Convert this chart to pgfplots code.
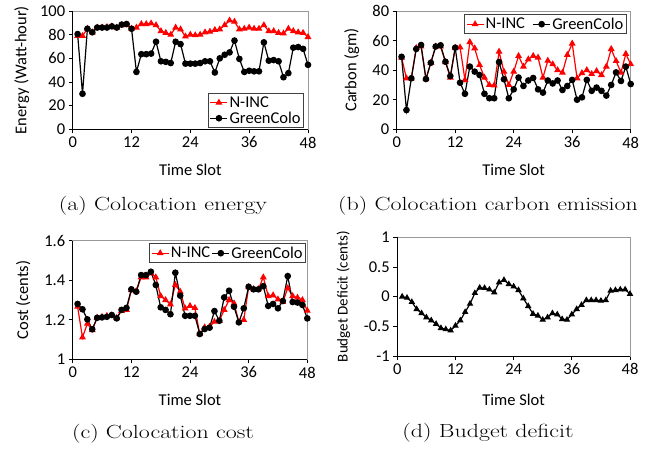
\documentclass[border=0pt]{standalone}
\usepackage{fontspec}
\usepackage{graphicx}
\usepackage{pgfplots}
\pgfplotsset{compat=1.18}
\newfontfamily\cf{Carlito}
\definecolor{ninc}{RGB}{255,0,0}
\newcommand{\capt}[1]{\fontsize{19}{21}\selectfont\scalebox{1.26}[1]{#1}}
\pgfplotsset{
  colo/.style={
    scale only axis,
    xmin=0, xmax=48, xtick={0,12,24,36,48},
    tick align=outside, xtick pos=bottom, ytick pos=left,
    major tick length=4pt,
    axis line style={black!40, line width=0.8pt},
    tick style={black, line width=0.8pt},
    tick label style={font=\fontsize{16.5}{18}\cf},
    /pgf/number format/assume math mode=true,
    xlabel={Time Slot},
    clip=false,
    legend cell align=left,
    legend style={draw=black!75, line width=0.8pt, font=\fontsize{16.5}{18}\cf, inner sep=1.5pt,
      nodes={inner sep=1.5pt}},
  },
  nincp/.style={color=ninc, line width=1.2pt, mark=triangle*, mark size=2.8pt, mark options={solid}},
  greenp/.style={color=black, line width=1.2pt, mark=*, mark size=2.7pt},
}
\newcommand{\blackaxes}{\draw[black, line width=0.9pt] (rel axis cs:0,1) -- (rel axis cs:0,0) -- (rel axis cs:1,0);}
\begin{document}
\begin{tikzpicture}
\useasboundingbox (0,0) rectangle (645pt,452pt);
% (a)
\begin{axis}[colo, at={(72.7pt,322.7pt)}, anchor=south west, width=235.3pt, height=118.3pt,
  ymin=0, ymax=100, ytick={0,20,40,60,80,100},
  ylabel={Energy (Watt-hour)},
  every axis y label/.style={at={(axis description cs:-0.2167,0.5)}, rotate=90, anchor=center, font=\fontsize{16.5}{18}\cf},
  every axis x label/.style={at={(axis description cs:0.5,-0.344)}, anchor=center, font=\fontsize{16.5}{18}\cf},
  legend style={at={(rel axis cs:0.983,0.01)}, anchor=south east}]
\addplot[nincp] coordinates {(1,79)(2,79)(3,85)(4,82)(5,86)(6,86)(7,86.5)(8,87)(9,86)(10,88)(11,88)(12,85)(13,86)(14,89)(15,89)(16,89.5)(17,88)(18,83)(19,81.5)(20,80)(21,86)(22,84.5)(23,78.5)(24,80)(25,79.5)(26,80)(27,82)(28,82.5)(29,84)(30,84.5)(31,88)(32,92)(33,91)(34,84.5)(35,85)(36,86)(37,85)(38,85)(39,88)(40,83)(41,83)(42,81.5)(43,81)(44,85)(45,83)(46,82)(47,81.5)(48,78)};
\addplot[greenp] coordinates {(1,80.5)(2,30)(3,85)(4,82)(5,86)(6,86)(7,86)(8,87)(9,86)(10,88.5)(11,89)(12,85)(13,48.5)(14,63.5)(15,63.5)(16,64)(17,74)(18,57.5)(19,57)(20,56)(21,74)(22,72)(23,55.5)(24,55.5)(25,55.5)(26,56)(27,57.5)(28,57.5)(29,48)(30,60)(31,63)(32,65)(33,75)(34,59.5)(35,48.5)(36,49.5)(37,49)(38,49)(39,73.5)(40,58)(41,58.5)(42,57.5)(43,44)(44,47.5)(45,69)(46,69.5)(47,68)(48,54.5)};
\legend{N-INC,GreenColo}
\blackaxes
\end{axis}
% (b)
\begin{axis}[colo, at={(396.7pt,322.7pt)}, anchor=south west, width=234pt, height=118.3pt,
  ymin=0, ymax=80, ytick={0,20,40,60,80},
  ylabel={Carbon (gm)},
  every axis y label/.style={at={(axis description cs:-0.192,0.5)}, rotate=90, anchor=center, font=\fontsize{16.5}{18}\cf},
  every axis x label/.style={at={(axis description cs:0.5,-0.344)}, anchor=center, font=\fontsize{16.5}{18}\cf},
  legend columns=2,
  legend style={at={(rel axis cs:0.983,0.972)}, anchor=north east,
    /tikz/every even column/.append style={column sep=6pt}}]
\addplot[nincp] coordinates {(1,48.5)(2,34.5)(3,34.5)(4,55)(5,56)(6,34)(7,45)(8,56)(9,56)(10,45.5)(11,35)(12,55)(13,55.4)(14,33.4)(15,59)(16,54.8)(17,43.5)(18,35)(19,30)(20,29.7)(21,52.5)(22,39)(23,30)(24,39)(25,49.6)(26,42.4)(27,47.3)(28,49.6)(29,48.5)(30,35)(31,46.4)(32,44)(33,40)(34,38.3)(35,50.3)(36,58)(37,34.5)(38,38)(39,40)(40,37.4)(41,39.4)(42,36.7)(43,42.4)(44,54.3)(45,46.2)(46,38.3)(47,51)(48,44)};
\addplot[greenp] coordinates {(1,49)(2,13)(3,34.5)(4,54.3)(5,57)(6,34)(7,45)(8,56)(9,56.8)(10,45.7)(11,36)(12,55.2)(13,31.5)(14,24)(15,42.4)(16,39)(17,36.7)(18,24)(19,21)(20,21)(21,45.5)(22,33.8)(23,21)(24,27)(25,35)(26,29.3)(27,33)(28,34.7)(29,27)(30,24.8)(31,33)(32,31)(33,33)(34,26.6)(35,29.3)(36,33.4)(37,20)(38,21.6)(39,33.4)(40,26)(41,28.2)(42,26)(43,22.8)(44,30)(45,38.5)(46,32.7)(47,42.4)(48,30.6)};
\legend{N-INC,GreenColo}
\blackaxes
\end{axis}
% (c)
\begin{axis}[colo, at={(72.7pt,92.7pt)}, anchor=south west, width=234.6pt, height=118.6pt,
  ymin=1, ymax=1.6, ytick={1,1.2,1.4,1.6},
  ylabel={Cost (cents)},
  every axis y label/.style={at={(axis description cs:-0.2106,0.5)}, rotate=90, anchor=center, font=\fontsize{16.5}{18}\cf},
  every axis x label/.style={at={(axis description cs:0.5,-0.343)}, anchor=center, font=\fontsize{16.5}{18}\cf},
  legend columns=2,
  legend style={at={(rel axis cs:0.994,0.978)}, anchor=north east,
    /tikz/every even column/.append style={column sep=0pt}}]
\addplot[nincp] coordinates {(1,1.266)(2,1.111)(3,1.18)(4,1.148)(5,1.21)(6,1.215)(7,1.22)(8,1.222)(9,1.21)(10,1.245)(11,1.25)(12,1.35)(13,1.345)(14,1.415)(15,1.415)(16,1.435)(17,1.415)(18,1.32)(19,1.3)(20,1.278)(21,1.376)(22,1.342)(23,1.258)(24,1.27)(25,1.26)(26,1.128)(27,1.162)(28,1.165)(29,1.19)(30,1.195)(31,1.25)(32,1.3)(33,1.283)(34,1.19)(35,1.199)(36,1.365)(37,1.355)(38,1.355)(39,1.415)(40,1.32)(41,1.324)(42,1.303)(43,1.29)(44,1.36)(45,1.32)(46,1.312)(47,1.3)(48,1.246)};
\addplot[greenp] coordinates {(1,1.28)(2,1.253)(3,1.202)(4,1.152)(5,1.21)(6,1.212)(7,1.215)(8,1.224)(9,1.207)(10,1.25)(11,1.26)(12,1.354)(13,1.342)(14,1.426)(15,1.426)(16,1.443)(17,1.376)(18,1.263)(19,1.25)(20,1.228)(21,1.438)(22,1.322)(23,1.22)(24,1.22)(25,1.22)(26,1.128)(27,1.153)(28,1.16)(29,1.244)(30,1.195)(31,1.313)(32,1.347)(33,1.266)(34,1.187)(35,1.258)(36,1.367)(37,1.354)(38,1.354)(39,1.37)(40,1.27)(41,1.28)(42,1.258)(43,1.295)(44,1.421)(45,1.29)(46,1.287)(47,1.275)(48,1.207)};
\legend{N-INC,GreenColo}
\blackaxes
\end{axis}
% (d)
\begin{axis}[colo, at={(397.3pt,96pt)}, anchor=south west, width=232.7pt, height=118.7pt,
  ymin=-1, ymax=1, ytick={-1,-0.5,0,0.5,1}, yticklabels={-1,-0.5,0,0.5,1},
  ylabel={Budget Deficit (cents)},
  every axis y label/.style={at={(axis description cs:-0.232,0.5)}, rotate=90, anchor=center, font=\fontsize{15}{17}\cf},
  every axis x label/.style={at={(axis description cs:0.5,-0.371)}, anchor=center, font=\fontsize{16.5}{18}\cf}]
\addplot[color=black, line width=1.2pt, mark=triangle*, mark size=2.6pt] coordinates {(1,0)(2,-0.02)(3,-0.09)(4,-0.21)(5,-0.28)(6,-0.35)(7,-0.40)(8,-0.46)(9,-0.53)(10,-0.55)(11,-0.57)(12,-0.49)(13,-0.40)(14,-0.26)(15,-0.12)(16,0.06)(17,0.15)(18,0.145)(19,0.12)(20,0.07)(21,0.24)(22,0.28)(23,0.21)(24,0.17)(25,0.11)(26,-0.03)(27,-0.16)(28,-0.29)(29,-0.32)(30,-0.39)(31,-0.35)(32,-0.28)(33,-0.30)(34,-0.38)(35,-0.39)(36,-0.30)(37,-0.21)(38,-0.14)(39,-0.06)(40,-0.06)(41,-0.06)(42,-0.07)(43,-0.06)(44,0.10)(45,0.11)(46,0.12)(47,0.12)(48,0.045)};
\blackaxes
\end{axis}
% captions
\node[anchor=base] at (163pt,241.5pt) {\capt{(a) Colocation energy}};
\node[anchor=base] at (488pt,241.5pt) {\capt{(b) Colocation carbon emission}};
\node[anchor=base] at (163pt,13.5pt) {\capt{(c) Colocation cost}};
\node[anchor=base] at (488pt,14.5pt) {\capt{(d) Budget deficit}};
\end{tikzpicture}
\end{document}
